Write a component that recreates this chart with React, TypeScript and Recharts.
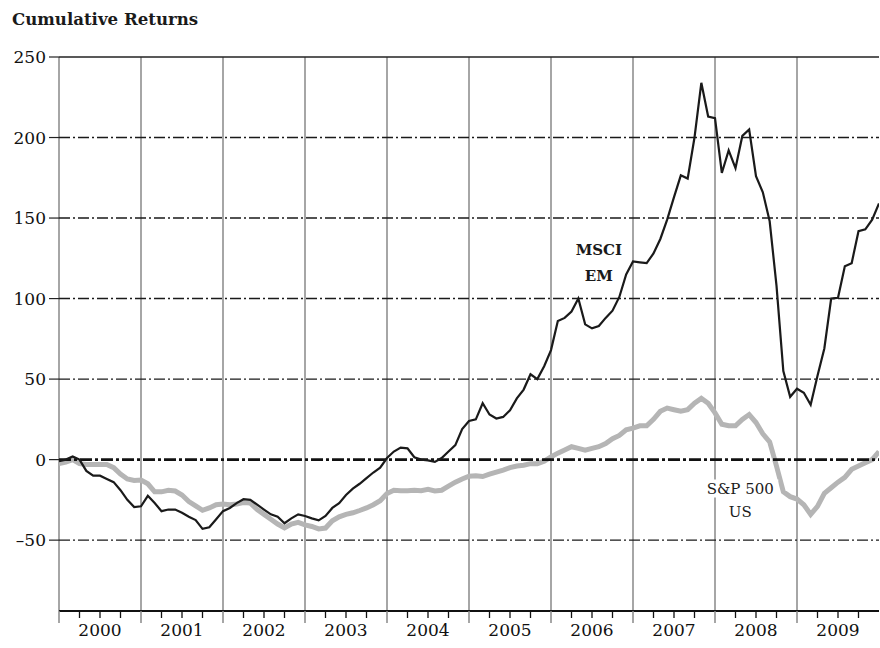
import React from 'react';
import { LineChart, Line, XAxis, YAxis, ReferenceLine, ReferenceDot } from 'recharts';

const years = ['2000', '2001', '2002', '2003', '2004', '2005', '2006', '2007', '2008', '2009'];

// Monthly cumulative returns (%), Jan 2000 .. Jan 2010
const msciEM = [
  -1, 0, 2, 0, -7, -10, -10, -12, -14, -19, -25, -29.5,
  -29, -22.5, -27, -32, -31, -31, -33, -35.5, -37.5, -43, -42, -37,
  -32, -30, -27, -24.6, -25, -28, -31, -34, -35.5, -39.5, -36.5, -34,
  -35, -36.5, -37.7, -35, -30, -27, -22, -18, -15, -11.5, -8, -5,
  1, 5, 7.5, 7, 1.5, 0, -0.5, -1.4, 1, 5, 9, 19,
  24, 25, 35, 28, 25.5, 26.5, 30.6, 38, 43.5, 53, 50, 58,
  68, 86, 88, 92, 100, 84, 81.5, 83, 88, 92.5, 101, 115,
  123, 122.5, 122, 128, 137, 149, 163, 176.5, 174.5, 200, 234, 213,
  212, 178, 192, 181, 201, 205, 176, 166, 148, 108, 55, 39,
  44, 41.5, 34, 52, 69, 100, 100.5, 120, 122, 141.8, 143, 149,
  159,
];

const sp500US = [
  -2.5, -1.5, 0, -2.5, -3, -3, -3, -3, -5, -9, -12, -13,
  -12.7, -15, -20, -20, -19, -19.5, -22, -26, -28.7, -31.5, -30, -28,
  -27.5, -28, -27.5, -26.7, -27, -31, -34, -37, -40, -42.4, -40, -39,
  -40.5, -41.5, -43, -42.5, -38, -35.5, -34, -33, -31.6, -30, -28, -25.5,
  -21, -19, -19.3, -19.3, -19, -19.3, -18.5, -19.5, -19, -16.5, -14, -12,
  -10.3, -10, -10.5, -9, -7.7, -6.5, -5, -4, -3.5, -2.5, -2.5, -1,
  1.7, 4, 6, 8, 7, 5.8, 7, 8, 10, 13, 15, 18.5,
  19.6, 21, 21, 25, 30, 32, 31, 30, 31, 35, 38, 35,
  29, 22, 21, 21, 25, 28, 23, 16, 11, -4, -20, -23,
  -24.5, -28, -34, -29, -21, -17.5, -14, -11, -6, -4, -2, 0,
  5,
];

const yTicks = [-50, 0, 50, 100, 150, 200, 250];
const dashLevels = [-50, 50, 100, 150, 200];

const data = msciEM.map((v, i) => ({ m: i, msci: v, sp: sp500US[i] }));
const yearStarts = years.map((_, i) => i * 12);
const quarterTicks: number[] = [];
for (let m = 0; m < 120; m += 3) quarterTicks.push(m);

const FONT = '"DejaVu Serif", serif';

const XTick = (p: any) => {
  const m = p.payload.value as number;
  const x = p.x;
  const y = p.y;
  const isYear = m % 12 === 0;
  return (
    <g>
      {isYear ? (
        <line x1={x} x2={x} y1={y} y2={y + 12} stroke="#888" strokeWidth={1.5} />
      ) : (
        <line x1={x} x2={x} y1={y} y2={y + 7} stroke="#111" strokeWidth={1.3} />
      )}
      {m % 12 === 6 ? (
        <text x={x} y={y + 25} textAnchor="middle" fontFamily={FONT} fontSize={17} fill="#111">
          {years[Math.floor(m / 12)]}
        </text>
      ) : null}
    </g>
  );
};

const MsciLabel = (p: any) => (
  <g>
    <text x={p.cx} y={p.cy - 13} textAnchor="middle" dominantBaseline="central" fontFamily={FONT} fontSize={15} fontWeight="bold" fill="#1a1a1a">MSCI</text>
    <text x={p.cx} y={p.cy + 13} textAnchor="middle" dominantBaseline="central" fontFamily={FONT} fontSize={15} fontWeight="bold" fill="#1a1a1a">EM</text>
  </g>
);

const SpLabel = (p: any) => (
  <g>
    <rect x={p.cx - 38} y={p.cy - 22} width={76} height={18} fill="#fff" />
    <text x={p.cx} y={p.cy - 12} textAnchor="middle" dominantBaseline="central" fontFamily={FONT} fontSize={15} fill="#1a1a1a">S&amp;P 500</text>
    <text x={p.cx} y={p.cy + 11} textAnchor="middle" dominantBaseline="central" fontFamily={FONT} fontSize={15} fill="#1a1a1a">US</text>
  </g>
);

export default function App() {
  return (
    <div style={{ position: 'absolute', left: 0, top: 0, width: 880, height: 648, background: '#fff' }}>
      <div style={{ position: 'absolute', left: 12, top: 9, fontFamily: FONT, fontWeight: 'bold', fontSize: 16.6, color: '#1a1a1a', whiteSpace: 'nowrap' }}>
        Cumulative Returns
      </div>
      <LineChart width={880} height={648} data={data} margin={{ top: 57, right: 1, bottom: 0, left: 0 }}>
        <XAxis
          dataKey="m"
          type="number"
          domain={[0, 120]}
          ticks={quarterTicks}
          interval={0}
          height={37}
          tickSize={0}
          tickMargin={0}
          tickLine={false}
          axisLine={{ stroke: '#111', strokeWidth: 2 }}
          tick={XTick}
          allowDataOverflow
        />
        <YAxis
          type="number"
          domain={[-94, 250]}
          ticks={yTicks}
          width={59}
          axisLine={false}
          tickSize={10}
          tickMargin={3}
          tickLine={{ stroke: '#222', strokeWidth: 1.2 }}
          tickFormatter={(v: number) => (v < 0 ? '\u2013' + Math.abs(v) : String(v))}
          tick={{ fontFamily: FONT, fontSize: 17, fill: '#111' }}
          allowDataOverflow
        />
        {yearStarts.map((m) => (
          <ReferenceLine key={'v' + m} x={m} stroke="#888" strokeWidth={1.5} />
        ))}
        {dashLevels.map((y) => (
          <ReferenceLine key={'h' + y} y={y} stroke="#1a1a1a" strokeWidth={1.4} strokeDasharray="11 3 2 3" />
        ))}
        <ReferenceLine y={250} stroke="#222" strokeWidth={1.6} />
        <Line dataKey="sp" stroke="#b5b5b5" strokeWidth={5} dot={false} isAnimationActive={false} type="linear" />
        <ReferenceLine y={0} stroke="#111" strokeWidth={2.6} strokeDasharray="12 3 3 3" />
        <Line dataKey="msci" stroke="#1a1a1a" strokeWidth={2.2} dot={false} isAnimationActive={false} type="linear" />
        <ReferenceDot x={79} y={122} r={0} shape={MsciLabel} />
        <ReferenceDot x={99.7} y={-26} r={0} shape={SpLabel} />
      </LineChart>
    </div>
  );
}
